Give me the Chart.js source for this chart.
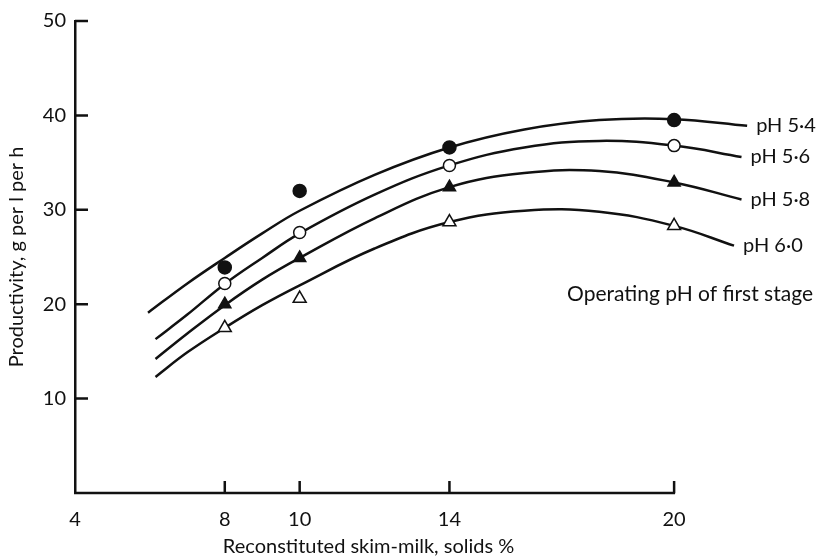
<!DOCTYPE html>
<html>
<head>
<meta charset="utf-8">
<script src="https://cdn.jsdelivr.net/npm/chart.js@4"></script>
<style>
  html, body { margin: 0; padding: 0; background: #fff; }
  #wrap { width: 818px; height: 558px; }
</style>
</head>
<body>
<div id="wrap"><canvas id="grafico" width="818" height="558"></canvas></div>
<script>
// tick labels
const xTicks = [4, 8, 10, 14, 20];
const yTicks = [10, 20, 30, 40, 50];
const phLabels = ["pH 5·4", "pH 5·6", "pH 5·8", "pH 6·0"];

// measured points
const solids = [8, 10, 14, 20];
const ph54 = [23.9, 32.0, 36.6, 39.5];
const ph56 = [22.2, 27.6, 34.7, 36.8];
const ph58 = [20.0, 24.9, 32.4, 32.9];
const ph60 = [17.5, 20.6, 28.7, 28.3];

// fitted curves
const curveX54 = [5.95, 7, 8, 9, 10, 12, 14, 16, 18, 20, 21.95];
const curveY54 = [19.1, 22.2, 24.9, 27.5, 29.9, 33.7, 36.6, 38.5, 39.5, 39.6, 38.9];
const curveX56 = [6.15, 7, 8, 9, 10, 12, 14, 16, 18, 20, 21.8];
const curveY56 = [16.3, 18.9, 22.15, 24.9, 27.5, 31.6, 34.7, 36.6, 37.3, 36.8, 35.6];
const curveX58 = [6.15, 7, 8, 9, 10, 12, 14, 16, 18, 20, 21.8];
const curveY58 = [14.2, 16.9, 19.9, 22.6, 24.9, 29.1, 32.4, 33.9, 34.1, 32.9, 31.1];
const curveX60 = [6.15, 7, 8, 9, 10, 12, 14, 16, 18, 20, 21.6];
const curveY60 = [12.3, 14.9, 17.5, 19.9, 22.0, 25.9, 28.7, 29.9, 29.8, 28.3, 26.2];

const fuente = "Lato, 'Open Sans', sans-serif";

function pares(xs, ys) {
  return xs.map((x, i) => ({ x: x, y: ys[i] }));
}

function curva(xs, ys) {
  return {
    data: pares(xs, ys),
    showLine: true,
    borderColor: "#111",
    borderWidth: 2.5,
    pointRadius: 0,
    tension: 0.4,
    clip: false,
    order: 2,
  };
}

function puntos(ys, estilo, relleno, radio) {
  return {
    data: pares(solids, ys),
    showLine: false,
    pointStyle: estilo,
    pointRadius: radio,
    pointBackgroundColor: relleno,
    pointBorderColor: "#111",
    pointBorderWidth: 1.5,
    clip: false,
    order: 1,
  };
}

// x axis line that stops at 20, inward ticks, titles, curve labels, note
const extras = {
  id: "extras",
  afterDraw(chart) {
    const ctx = chart.ctx;
    const x = chart.scales.x;
    const y = chart.scales.y;
    const fin = x.getPixelForValue(xTicks[xTicks.length - 1]);
    ctx.save();
    ctx.strokeStyle = "#111";
    ctx.lineWidth = 2.5;
    ctx.beginPath();
    ctx.moveTo(x.left - 1, y.bottom);
    ctx.lineTo(fin + 1, y.bottom);
    yTicks.forEach(v => {
      const py = y.getPixelForValue(v);
      ctx.moveTo(x.left, py);
      ctx.lineTo(x.left + 13, py);
    });
    xTicks.slice(1).forEach(v => {
      const px = x.getPixelForValue(v);
      ctx.moveTo(px, y.bottom);
      ctx.lineTo(px, y.bottom - 12);
    });
    ctx.stroke();

    ctx.fillStyle = "#111";
    ctx.textBaseline = "middle";
    ctx.textAlign = "center";
    ctx.font = "20px " + fuente;
    ctx.fillText("Reconstituted skim-milk, solids %", (x.left + fin) / 2 - 6, 547);

    ctx.textAlign = "left";
    const curvas = [[curveX54, curveY54], [curveX56, curveY56], [curveX58, curveY58], [curveX60, curveY60]];
    curvas.forEach((c, i) => {
      const n = c[0].length - 1;
      const px = x.getPixelForValue(c[0][n]);
      const py = y.getPixelForValue(c[1][n]);
      ctx.fillText(phLabels[i], px + 9, py);
    });
    ctx.textAlign = "right";
    ctx.font = "21px " + fuente;
    ctx.fillText("Operating pH of first stage", chart.width - 5, 294);
    ctx.restore();
  },
};

const ctx = document.getElementById("grafico").getContext("2d");
const grafico = new Chart(ctx, {
  type: "scatter",
  data: {
    datasets: [
      curva(curveX54, curveY54),
      curva(curveX56, curveY56),
      curva(curveX58, curveY58),
      curva(curveX60, curveY60),
      puntos(ph54, "circle", "#111", 6.5),
      puntos(ph56, "circle", "#fff", 6),
      puntos(ph58, "triangle", "#111", 7),
      puntos(ph60, "triangle", "#fff", 7.5),
    ],
  },
  options: {
    responsive: false,
    animation: false,
    layout: { padding: { left: 0, right: 69, top: 16, bottom: 0 } },
    scales: {
      x: {
        type: "linear",
        min: 4,
        max: 22,
        afterBuildTicks: axis => {
          axis.ticks = xTicks.map(v => ({ value: v }));
        },
        afterFit: axis => {
          axis.height = 65;
        },
        grid: { drawOnChartArea: false, drawTicks: false },
        border: { display: false },
        ticks: {
          color: "#111",
          padding: 15,
          maxRotation: 0,
          font: { family: fuente, size: 20 },
        },
        title: { display: false },
      },
      y: {
        type: "linear",
        min: 0,
        max: 50,
        afterBuildTicks: axis => {
          axis.ticks = yTicks.map(v => ({ value: v }));
        },
        afterFit: axis => {
          axis.width = 75;
        },
        grid: { drawOnChartArea: false, drawTicks: false },
        border: { display: true, color: "#111", width: 2.5 },
        ticks: {
          color: "#111",
          padding: 9,
          font: { family: fuente, size: 20 },
        },
        title: {
          display: true,
          text: "Productivity, g per l per h",
          color: "#111",
          padding: { top: 5, bottom: 4 },
          font: { family: fuente, size: 20 },
        },
      },
    },
    plugins: {
      legend: { display: false },
      tooltip: { enabled: false },
    },
  },
  plugins: [extras],
});
</script>
</body>
</html>
